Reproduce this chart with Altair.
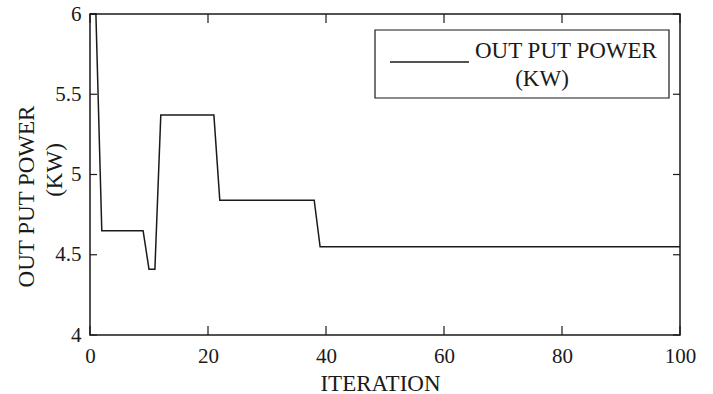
import altair as alt
import pandas as pd

# Series
iterations = [0, 1, 2, 9, 10, 11, 12, 21, 22, 38, 39, 100]
power_kw = [6.0, 6.0, 4.65, 4.65, 4.41, 4.41, 5.37, 5.37, 4.84, 4.84, 4.55, 4.55]

x_ticks = [0, 20, 40, 60, 80, 100]
y_ticks = [4, 4.5, 5, 5.5, 6]

x_title = "ITERATION"
y_title = ["OUT PUT POWER", "(KW)"]
legend_line1 = "OUT PUT POWER"
legend_line2 = "(KW)"

W, H = 590, 321
FONT = "Liberation Serif"
INK = "#1a1a1a"
TFS = 23

df = pd.DataFrame({"iter": iterations, "power": power_kw})
xt = pd.DataFrame({"iter": x_ticks})
yt = pd.DataFrame({"power": y_ticks})
one = pd.DataFrame({"a": [0]})

xscale = alt.Scale(domain=[0, 100], nice=False, zero=False)
yscale = alt.Scale(domain=[4, 6], nice=False, zero=False)

x_axis = alt.Axis(values=x_ticks, title=x_title, tickSize=0, domain=False, grid=False,
                  labelFont=FONT, labelFontSize=21, labelColor=INK,
                  labelBaseline="alphabetic", labelPadding=27, labelFlush=False,
                  titleFont=FONT, titleFontSize=TFS, titleFontWeight="normal", titleColor=INK,
                  titleX=290, titleY=55, titleBaseline="alphabetic", titleAlign="center")
y_axis = alt.Axis(values=y_ticks, title=y_title[0], tickSize=0, domain=False, grid=False,
                  labelFont=FONT, labelFontSize=21, labelColor=INK, labelPadding=9,
                  labelFlush=False, format="~g",
                  titleFont=FONT, titleFontSize=TFS, titleFontWeight="normal", titleColor=INK,
                  titleAngle=270, titleX=-75, titleY=182, titleBaseline="top",
                  titleAlign="center")

line = alt.Chart(df).mark_line(color=INK, strokeWidth=1.5).encode(
    x=alt.X("iter:Q", scale=xscale, axis=x_axis),
    y=alt.Y("power:Q", scale=yscale, axis=y_axis),
)

bottom_ticks = alt.Chart(xt).mark_rule(color=INK, strokeWidth=1.2).encode(
    x=alt.X("iter:Q", scale=xscale, axis=x_axis), y=alt.value(H), y2=alt.value(H - 9))
top_ticks = alt.Chart(xt).mark_rule(color=INK, strokeWidth=1.2).encode(
    x=alt.X("iter:Q", scale=xscale, axis=x_axis), y=alt.value(0), y2=alt.value(9))
left_ticks = alt.Chart(yt).mark_rule(color=INK, strokeWidth=1.2).encode(
    y=alt.Y("power:Q", scale=yscale, axis=y_axis), x=alt.value(0), x2=alt.value(7))
right_ticks = alt.Chart(yt).mark_rule(color=INK, strokeWidth=1.2).encode(
    y=alt.Y("power:Q", scale=yscale, axis=y_axis), x=alt.value(W), x2=alt.value(W - 7))

# second line of the y-axis title
y_title2 = alt.Chart(one).mark_text(font=FONT, fontSize=TFS, color=INK, angle=270,
                                    align="center", baseline="top", text=y_title[1]).encode(
    x=alt.value(-46), y=alt.value(156))

legend_box = alt.Chart(one).mark_rect(fill="white", stroke=INK, strokeWidth=1.2).encode(
    x=alt.value(285), x2=alt.value(579), y=alt.value(16), y2=alt.value(84))
legend_sample = alt.Chart(one).mark_rule(color=INK, strokeWidth=1.5).encode(
    x=alt.value(300), x2=alt.value(379), y=alt.value(48))
legend_t1 = alt.Chart(one).mark_text(font=FONT, fontSize=TFS, color=INK, align="left",
                                     baseline="alphabetic", text=legend_line1).encode(
    x=alt.value(385), y=alt.value(44))
legend_t2 = alt.Chart(one).mark_text(font=FONT, fontSize=TFS, color=INK, align="center",
                                     baseline="alphabetic", text=legend_line2).encode(
    x=alt.value(452), y=alt.value(72))

chart = alt.layer(
    line, bottom_ticks, top_ticks, left_ticks, right_ticks, y_title2,
    legend_box, legend_sample, legend_t1, legend_t2,
).properties(
    width=W, height=H,
    autosize=alt.AutoSizeParams(type="none"),
    padding={"left": 90, "top": 14, "right": 33, "bottom": 59},
    background="white",
).configure_view(stroke=INK, strokeWidth=1.5)

chart.save("out.html", embed_options={"renderer": "svg", "actions": False})
